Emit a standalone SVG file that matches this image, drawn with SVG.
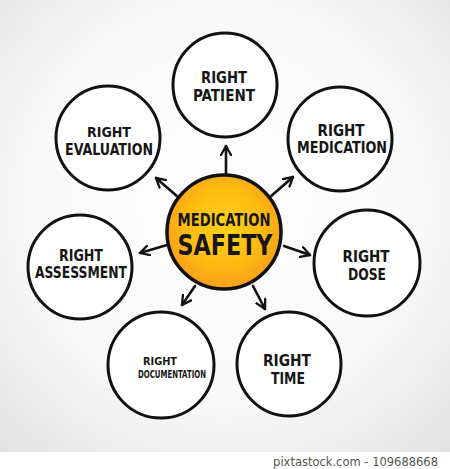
<svg xmlns="http://www.w3.org/2000/svg" width="450" height="469" viewBox="0 0 450 469">
<defs>
<radialGradient id="bg" cx="50%" cy="45%" r="75%">
<stop offset="0" stop-color="#ffffff"/>
<stop offset="0.55" stop-color="#fafafa"/>
<stop offset="1" stop-color="#e2e2e2"/>
</radialGradient>
<radialGradient id="og" cx="50%" cy="45%" r="55%">
<stop offset="0" stop-color="#ffd21a"/>
<stop offset="0.6" stop-color="#ffbb10"/>
<stop offset="1" stop-color="#f7a01a"/>
</radialGradient>
<marker id="ah" viewBox="0 0 12 12" refX="10" refY="6" markerWidth="12" markerHeight="12" markerUnits="userSpaceOnUse" orient="auto">
<path d="M1,1 L10,6 L1,11" fill="none" stroke="#111" stroke-width="2.3" stroke-linecap="round" stroke-linejoin="round"/>
</marker>
</defs>
<style>
.n{fill:#fff;stroke:#111;stroke-width:3}
.t{font-family:"DejaVu Sans Condensed","DejaVu Sans",sans-serif;font-weight:bold;fill:#161616;text-anchor:middle}
.c{stroke:#111;stroke-width:2.6;fill:none;stroke-linecap:round;marker-end:url(#ah)}
</style>
<rect width="450" height="452" fill="url(#bg)"/>
<rect y="452" width="450" height="17" fill="#ffffff"/>
<text x="438" y="466" font-family="DejaVu Sans, sans-serif" font-size="11.5" fill="#555" text-anchor="end">pixtastock.com - 109688668</text>
<g id="connectors">
<line class="c" x1="226" y1="174" x2="226" y2="146"/>
<line class="c" x1="270" y1="197" x2="293" y2="177"/>
<line class="c" x1="284" y1="246" x2="310" y2="255"/>
<line class="c" x1="253" y1="286" x2="265" y2="309"/>
<line class="c" x1="195" y1="286" x2="182" y2="305"/>
<line class="c" x1="167" y1="245" x2="140" y2="253"/>
<line class="c" x1="178" y1="197" x2="156" y2="178"/>
</g>
<g id="center">
<circle cx="224" cy="232" r="57" fill="url(#og)" stroke="#111" stroke-width="3.5"/>
<text class="t" x="224" y="226" font-size="18" textLength="93" lengthAdjust="spacingAndGlyphs">MEDICATION</text>
<text class="t" x="225" y="255" font-size="28" textLength="95" lengthAdjust="spacingAndGlyphs">SAFETY</text>
</g>
<g id="patient">
<circle class="n" cx="225" cy="85" r="52"/>
<text class="t" x="224" y="83" font-size="15" textLength="46" lengthAdjust="spacingAndGlyphs">RIGHT</text>
<text class="t" x="224" y="101" font-size="16" textLength="62" lengthAdjust="spacingAndGlyphs">PATIENT</text>
</g>
<g id="medication">
<circle class="n" cx="340" cy="139" r="52"/>
<text class="t" x="341" y="136" font-size="15" textLength="47" lengthAdjust="spacingAndGlyphs">RIGHT</text>
<text class="t" x="342" y="153" font-size="15" textLength="90" lengthAdjust="spacingAndGlyphs">MEDICATION</text>
</g>
<g id="dose">
<circle class="n" cx="367" cy="263" r="53"/>
<text class="t" x="366" y="262" font-size="15" textLength="47" lengthAdjust="spacingAndGlyphs">RIGHT</text>
<text class="t" x="367" y="280" font-size="16" textLength="38" lengthAdjust="spacingAndGlyphs">DOSE</text>
</g>
<g id="time">
<circle class="n" cx="289" cy="364" r="52"/>
<text class="t" x="287" y="366" font-size="16" textLength="48" lengthAdjust="spacingAndGlyphs">RIGHT</text>
<text class="t" x="288" y="384" font-size="16" textLength="34" lengthAdjust="spacingAndGlyphs">TIME</text>
</g>
<g id="documentation">
<circle class="n" cx="161" cy="365" r="53"/>
<text class="t" x="160" y="365" font-size="10.5" textLength="34" lengthAdjust="spacingAndGlyphs">RIGHT</text>
<text class="t" x="172" y="378" font-size="11" textLength="68" lengthAdjust="spacingAndGlyphs">DOCUMENTATION</text>
</g>
<g id="assessment">
<circle class="n" cx="80" cy="267" r="52"/>
<text class="t" x="81" y="261" font-size="16" textLength="44" lengthAdjust="spacingAndGlyphs">RIGHT</text>
<text class="t" x="81" y="278" font-size="15" textLength="92" lengthAdjust="spacingAndGlyphs">ASSESSMENT</text>
</g>
<g id="evaluation">
<circle class="n" cx="108" cy="138" r="52"/>
<text class="t" x="109" y="137" font-size="14" textLength="44" lengthAdjust="spacingAndGlyphs">RIGHT</text>
<text class="t" x="109" y="155" font-size="16" textLength="88" lengthAdjust="spacingAndGlyphs">EVALUATION</text>
</g>
</svg>
